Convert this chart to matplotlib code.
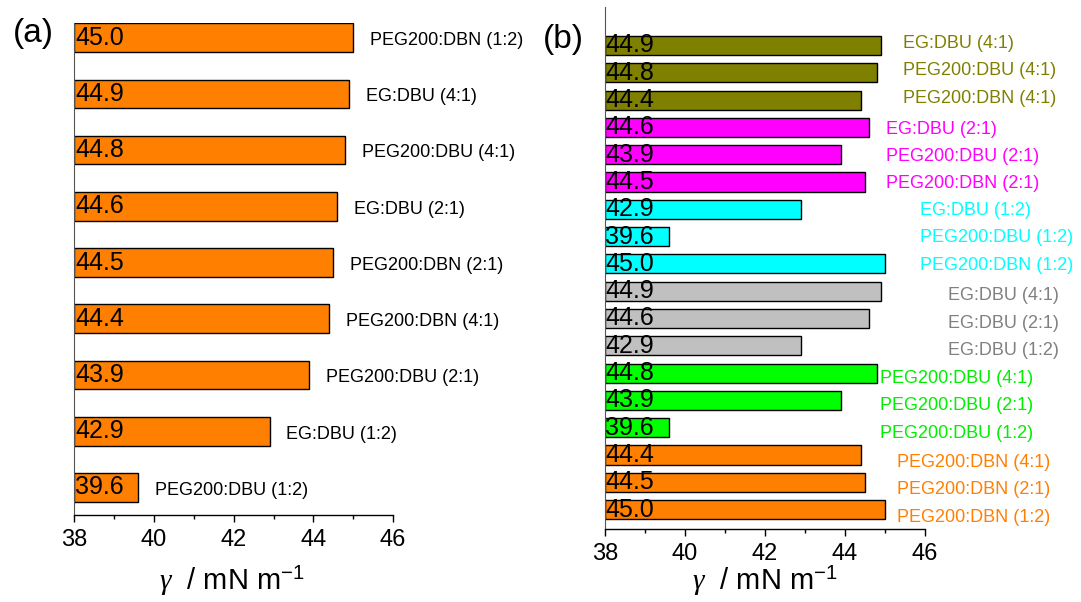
import numpy as np
import matplotlib
matplotlib.use('Agg')
import matplotlib.pyplot as plt

plt.rcParams['font.family'] = ['Liberation Sans', 'DejaVu Sans']
plt.rcParams['mathtext.fontset'] = 'custom'
plt.rcParams['mathtext.rm'] = 'Liberation Sans'
plt.rcParams['mathtext.it'] = 'Liberation Serif:italic'

# panel (a): bottom to top
a_labels = ['PEG200:DBU (1:2)', 'EG:DBU (1:2)', 'PEG200:DBU (2:1)', 'PEG200:DBN (4:1)',
            'PEG200:DBN (2:1)', 'EG:DBU (2:1)', 'PEG200:DBU (4:1)', 'EG:DBU (4:1)',
            'PEG200:DBN (1:2)']
a_values = [39.6, 42.9, 43.9, 44.4, 44.5, 44.6, 44.8, 44.9, 45.0]

# panel (b): groups, listed top to bottom
b_groups = [
    ['EG:DBU (4:1)', 'PEG200:DBU (4:1)', 'PEG200:DBN (4:1)'],
    ['EG:DBU (2:1)', 'PEG200:DBU (2:1)', 'PEG200:DBN (2:1)'],
    ['EG:DBU (1:2)', 'PEG200:DBU (1:2)', 'PEG200:DBN (1:2)'],
    ['EG:DBU (4:1)', 'EG:DBU (2:1)', 'EG:DBU (1:2)'],
    ['PEG200:DBU (4:1)', 'PEG200:DBU (2:1)', 'PEG200:DBU (1:2)'],
    ['PEG200:DBN (4:1)', 'PEG200:DBN (2:1)', 'PEG200:DBN (1:2)'],
]
b_values = [
    [44.9, 44.8, 44.4],
    [44.6, 43.9, 44.5],
    [42.9, 39.6, 45.0],
    [44.9, 44.6, 42.9],
    [44.8, 43.9, 39.6],
    [44.4, 44.5, 45.0],
]
b_bar_colors = ['#808000', '#FF00FF', '#00FFFF', '#C0C0C0', '#00FF00', '#FF8000']
b_text_colors = ['#808000', '#FF00FF', '#00FFFF', '#808080', '#00EE00', '#FF8000']
# where each group's text starts (x, data units) and its vertical shift
b_text_x = [45.45, 45.03, 45.88, 46.58, 44.88, 45.3]
b_text_dy = [0.07, -0.07, -0.05, -0.17, -0.2, -0.28]

fig = plt.figure(figsize=(10.81, 6.02), dpi=100)
ax1 = fig.add_axes([0.0689, 0.1445, 0.2946, 0.8173])
ax2 = fig.add_axes([0.5597, 0.1213, 0.2960, 0.8671])


def style_axis(ax):
    ax.set_xlim(38, 46)
    ax.set_xticks([38, 40, 42, 44, 46])
    ax.set_xticks([39, 41, 43, 45], minor=True)
    ax.tick_params(axis='x', which='major', direction='out', length=5, width=1,
                   labelsize=17, pad=5)
    ax.tick_params(axis='x', which='minor', direction='out', length=3, width=1)
    ax.set_yticks([])
    ax.spines['top'].set_visible(False)
    ax.spines['right'].set_visible(False)
    ax.spines['left'].set_color('#555555')
    ax.spines['bottom'].set_linewidth(1)


# (a)
ya = np.arange(len(a_values))
ax1.barh(ya, np.array(a_values) - 38, left=38, height=0.51, color='#FF8000',
         edgecolor='black', linewidth=1)
for y, v, lab in zip(ya, a_values, a_labels):
    ax1.text(38.02, y, f'{v:.1f}', fontsize=18, va='center', ha='left', color='black')
    ax1.text(v + 0.42, y - 0.05, lab, fontsize=13, va='center', ha='left', color='black',
             clip_on=False)
ax1.set_ylim(-0.49, 8.26)
style_axis(ax1)

# (b)
n = sum(len(g) for g in b_groups)
pos = n - 1
for gi, (labs, vals) in enumerate(zip(b_groups, b_values)):
    for lab, v in zip(labs, vals):
        ax2.barh(pos, v - 38, left=38, height=0.70, color=b_bar_colors[gi],
                 edgecolor='black', linewidth=1)
        ax2.text(38.0, pos, f'{v:.1f}', fontsize=18, va='center', ha='left', color='black')
        ax2.text(b_text_x[gi], pos + b_text_dy[gi], lab, fontsize=13, va='center',
                 ha='left', color=b_text_colors[gi], clip_on=False)
        pos -= 1
ax2.set_ylim(-0.71, 18.41)
style_axis(ax2)

xlabel = r'$\gamma$  / mN m$^{-1}$'
fig.text(0.215, 0.034, xlabel, fontsize=21, ha='center', va='center')
fig.text(0.708, 0.034, xlabel, fontsize=21, ha='center', va='center')

fig.text(0.012, 0.945, '(a)', fontsize=24, va='center', ha='left')
fig.text(0.502, 0.935, '(b)', fontsize=24, va='center', ha='left')

fig.savefig('out.png', dpi=100)
